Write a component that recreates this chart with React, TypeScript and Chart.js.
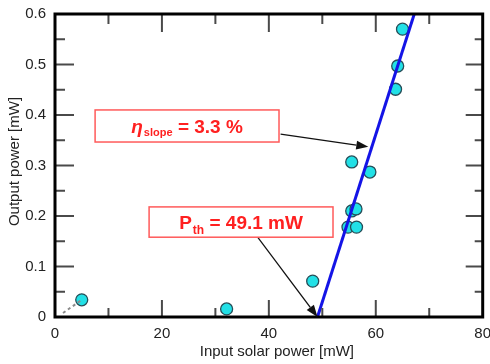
import React, { useEffect, useRef } from "react";
import { Chart, registerables } from "chart.js";

Chart.register(...registerables);

// ---- data ----
const inputPower = [5.0, 32.1, 48.2, 54.8, 55.5, 56.3, 56.4, 55.5, 58.9, 63.7, 64.1, 65.0];
const outputPower = [0.034, 0.016, 0.071, 0.178, 0.21, 0.214, 0.178, 0.307, 0.287, 0.451, 0.497, 0.57];
const fitX = [49.1, 67.2];
const fitY = [0, 0.6];
const guideX = [1.5, 5.0];
const guideY = [0.008, 0.034];
const xTicks = [0, 20, 40, 60, 80];
const yTicks = [0, 0.1, 0.2, 0.3, 0.4, 0.5, 0.6];
const xTitle = "Input solar power [mW]";
const yTitle = "Output power [mW]";
const slopeLabel = { sym: "\u03b7", sub: "slope", rest: " = 3.3 %" };
const thLabel = { sym: "P", sub: "th", rest: " = 49.1 mW" };

const FONT = "'Liberation Sans', Arial, sans-serif";

function drawArrow(ctx: CanvasRenderingContext2D, x1: number, y1: number, x2: number, y2: number) {
  const ang = Math.atan2(y2 - y1, x2 - x1);
  const hl = 12, hw = 4.5;
  ctx.strokeStyle = "#111";
  ctx.fillStyle = "#111";
  ctx.lineWidth = 1.3;
  ctx.beginPath();
  ctx.moveTo(x1, y1);
  ctx.lineTo(x2 - hl * Math.cos(ang), y2 - hl * Math.sin(ang));
  ctx.stroke();
  ctx.beginPath();
  ctx.moveTo(x2, y2);
  ctx.lineTo(x2 - hl * Math.cos(ang) + hw * Math.sin(ang), y2 - hl * Math.sin(ang) - hw * Math.cos(ang));
  ctx.lineTo(x2 - hl * Math.cos(ang) - hw * Math.sin(ang), y2 - hl * Math.sin(ang) + hw * Math.cos(ang));
  ctx.closePath();
  ctx.fill();
}

function drawLabelBox(
  ctx: CanvasRenderingContext2D,
  x1: number, y1: number, x2: number, y2: number,
  lab: { sym: string; sub: string; rest: string },
  italicSym: boolean, size: number, subSize: number, subDrop: number
) {
  ctx.fillStyle = "#fff";
  ctx.fillRect(x1, y1, x2 - x1, y2 - y1);
  ctx.strokeStyle = "#ff5a5a";
  ctx.lineWidth = 1.5;
  ctx.strokeRect(x1, y1, x2 - x1, y2 - y1);
  const symFont = `${italicSym ? "italic " : ""}bold ${size}px ${FONT}`;
  const subFont = `bold ${subSize}px ${FONT}`;
  const restFont = `bold ${size}px ${FONT}`;
  ctx.font = symFont;
  const w1 = ctx.measureText(lab.sym).width;
  ctx.font = subFont;
  const w2 = ctx.measureText(lab.sub).width;
  ctx.font = restFont;
  const w3 = ctx.measureText(lab.rest).width;
  const total = w1 + w2 + w3 + 1;
  let cx = (x1 + x2) / 2 - total / 2;
  const base = (y1 + y2) / 2 + size * 0.36;
  ctx.fillStyle = "#ff2020";
  ctx.textAlign = "left";
  ctx.textBaseline = "alphabetic";
  ctx.font = symFont;
  ctx.fillText(lab.sym, cx, base);
  cx += w1 + 1;
  ctx.font = subFont;
  ctx.fillText(lab.sub, cx, base + subDrop);
  cx += w2;
  ctx.font = restFont;
  ctx.fillText(lab.rest, cx, base);
}

const framePlugin = {
  id: "frameAndNotes",
  afterDraw(chart: any) {
    const { ctx, chartArea: a, scales } = chart;
    const xs = scales.x, ys = scales.y;
    ctx.save();
    // inward ticks on all four sides
    ctx.strokeStyle = "#4a4a4a";
    ctx.lineWidth = 2;
    ctx.beginPath();
    for (let i = 0; i < xTicks.length; i++) {
      const major = xTicks[i];
      const px = xs.getPixelForValue(major);
      if (i > 0 && i < xTicks.length - 1) {
        ctx.moveTo(px, a.bottom); ctx.lineTo(px, a.bottom - 17);
        ctx.moveTo(px, a.top); ctx.lineTo(px, a.top + 18);
      }
      if (i < xTicks.length - 1) {
        const mid = xs.getPixelForValue((major + xTicks[i + 1]) / 2);
        ctx.moveTo(mid, a.bottom); ctx.lineTo(mid, a.bottom - 9);
        ctx.moveTo(mid, a.top); ctx.lineTo(mid, a.top + 10);
      }
    }
    for (let i = 0; i < yTicks.length; i++) {
      const major = yTicks[i];
      const py = ys.getPixelForValue(major);
      if (i > 0 && i < yTicks.length - 1) {
        ctx.moveTo(a.left, py); ctx.lineTo(a.left + 19, py);
        ctx.moveTo(a.right, py); ctx.lineTo(a.right - 17, py);
      }
      if (i < yTicks.length - 1) {
        const mid = ys.getPixelForValue((major + yTicks[i + 1]) / 2);
        ctx.moveTo(a.left, mid); ctx.lineTo(a.left + 10, mid);
        ctx.moveTo(a.right, mid); ctx.lineTo(a.right - 8, mid);
      }
    }
    ctx.stroke();
    // frame
    ctx.strokeStyle = "#000";
    ctx.lineWidth = 3;
    ctx.strokeRect(a.left, a.top, a.right - a.left, a.bottom - a.top);

    // annotations (positioned in data coordinates)
    const X = (v: number) => xs.getPixelForValue(v);
    const Y = (v: number) => ys.getPixelForValue(v);
    drawArrow(ctx, X(42.2), Y(0.362), X(58.6), Y(0.337));
    drawLabelBox(ctx, X(7.5), Y(0.41), X(41.9), Y(0.3465), slopeLabel, true, 19, 11, 3);
    drawArrow(ctx, X(37.9), Y(0.158), X(49.1), Y(0.0));
    drawLabelBox(ctx, X(17.6), Y(0.218), X(52.0), Y(0.158), thLabel, false, 19, 12, 5);

    // axis titles
    ctx.fillStyle = "#222";
    ctx.font = `15px ${FONT}`;
    ctx.textAlign = "center";
    ctx.textBaseline = "middle";
    ctx.fillText(xTitle, (a.left + a.right) / 2 + 8, 352);
    ctx.save();
    ctx.translate(15, (a.top + a.bottom) / 2 - 4);
    ctx.rotate(-Math.PI / 2);
    ctx.fillText(yTitle, 0, 0);
    ctx.restore();
    ctx.restore();
  },
};

export default function App() {
  const ref = useRef<HTMLCanvasElement | null>(null);
  useEffect(() => {
    if (!ref.current) return;
    const pts = inputPower.map((x, i) => ({ x, y: outputPower[i] }));
    const fit = fitX.map((x, i) => ({ x, y: fitY[i] }));
    const guide = guideX.map((x, i) => ({ x, y: guideY[i] }));
    const chart = new Chart(ref.current, {
      type: "scatter",
      data: {
        datasets: [
          {
            label: "fit",
            data: fit,
            showLine: true,
            borderColor: "#1414e6",
            borderWidth: 3,
            pointRadius: 0,
            fill: false,
          },
          {
            label: "guide",
            data: guide,
            showLine: true,
            borderColor: "#8a8a8a",
            borderWidth: 2,
            borderDash: [3, 3],
            pointRadius: 0,
            fill: false,
          },
          {
            label: "measured",
            data: pts,
            pointRadius: 6,
            pointBackgroundColor: "#22e0e6",
            pointBorderColor: "#264e58",
            pointBorderWidth: 1.3,
          },
        ],
      },
      options: {
        animation: false,
        responsive: false,
        maintainAspectRatio: false,
        layout: { padding: { left: 0, right: 7, top: 14, bottom: 0 } },
        plugins: { legend: { display: false }, tooltip: { enabled: false } },
        scales: {
          x: {
            type: "linear",
            min: 0,
            max: 80,
            afterBuildTicks: (s: any) => { s.ticks = xTicks.map((v) => ({ value: v })); },
            afterFit: (s: any) => { s.height = 47; s.paddingLeft = 0; s.paddingRight = 0; },
            grid: { display: false, drawTicks: false },
            border: { display: false },
            ticks: {
              padding: 8,
              color: "#222",
              font: { family: FONT, size: 15 },
              maxRotation: 0,
              callback: (v: any) => String(v),
            },
          },
          y: {
            type: "linear",
            min: 0,
            max: 0.6,
            afterBuildTicks: (s: any) => { s.ticks = yTicks.map((v) => ({ value: v })); },
            afterFit: (s: any) => { s.width = 55; s.paddingTop = 0; s.paddingBottom = 0; },
            grid: { display: false, drawTicks: false },
            border: { display: false },
            ticks: {
              padding: 9,
              color: "#222",
              font: { family: FONT, size: 15 },
              callback: (v: any) => (Number(v) === 0 ? "0" : Number(v).toFixed(1)),
            },
          },
        },
      },
      plugins: [framePlugin],
    });
    return () => chart.destroy();
  }, []);
  return (
    <div style={{ position: "fixed", left: 0, top: 0, width: 490, height: 364, background: "#fff" }}>
      <canvas ref={ref} width={490} height={364} style={{ display: "block", width: 490, height: 364 }} />
    </div>
  );
}
